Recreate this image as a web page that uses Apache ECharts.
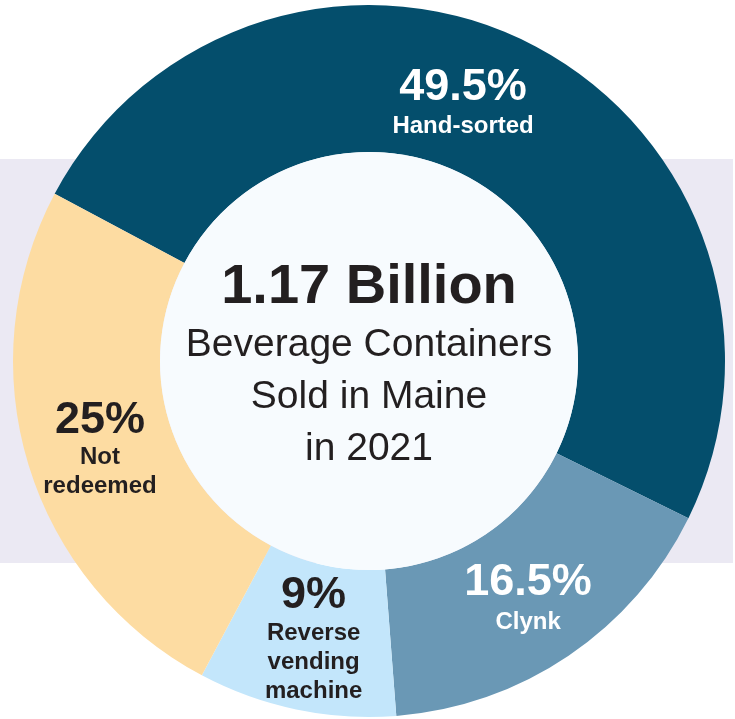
<!DOCTYPE html>
<html>
<head>
<meta charset="utf-8">
<script src="https://cdn.jsdelivr.net/npm/echarts@6/dist/echarts.min.js"></script>
<style>
html,body{margin:0;padding:0;background:#ffffff;}
#chart{width:735px;height:719px;}
</style>
</head>
<body>
<div id="chart"></div>
<script>
// Data
const categories = ['Hand-sorted', 'Clynk', 'Reverse\nvending\nmachine', 'Not\nredeemed'];
const shares = [49.5, 16.5, 9, 25];
const colors = ['#044e6c', '#6a98b5', '#c3e6fb', '#fddca2'];
const labelColors = ['#ffffff', '#ffffff', '#231f20', '#231f20'];
const centerTitle = '1.17 Billion';
const centerLines = ['Beverage Containers', 'Sold in Maine', 'in 2021'];

const labelOffsets = [[-36, -3], [-1, 2], [3, -1], [4, 5]];
const FONT = '"Liberation Sans", Arial, sans-serif';

const chart = echarts.init(document.getElementById('chart'), null, {renderer: 'canvas'});

const pieData = categories.map((name, i) => ({
  name: name,
  value: shares[i],
  itemStyle: {color: colors[i]},
  label: {
    color: labelColors[i],
    rich: {
      p: {fontFamily: FONT, fontWeight: 'bold', fontSize: 45, lineHeight: 45, color: labelColors[i], align: 'center'},
      n: {fontFamily: FONT, fontWeight: 'bold', fontSize: 24, lineHeight: i < 2 ? 33 : 29, color: labelColors[i], align: 'center'}
    }
  }
}));

const option = {
  animation: false,
  graphic: [{
    type: 'rect',
    z: 0,
    shape: {x: 0, y: 159, width: 733, height: 404},
    style: {fill: '#ebe9f3'}
  }],
  series: [
    {
      type: 'pie',
      center: [369, 361],
      radius: [209, 356],
      startAngle: 152,
      clockwise: true,
      silent: true,
      avoidLabelOverlap: false,
      label: {
        show: true,
        position: 'inside',
        formatter: function (p) {
          const lines = p.name.split('\n').map(s => '{n|' + s + '}').join('\n');
          return '{p|' + p.value + '%}\n' + lines;
        }
      },
      labelLine: {show: false},
      labelLayout: function (params) {
        const o = labelOffsets[params.dataIndex];
        return {dx: o[0], dy: o[1]};
      },
      data: pieData
    },
    {
      type: 'pie',
      center: [369, 361],
      radius: [0, 209],
      silent: true,
      z: 3,
      label: {
        show: true,
        position: 'center',
        formatter: function () {
          return '{a|' + centerTitle + '}\n' + centerLines.map(s => '{b|' + s + '}').join('\n');
        },
        rich: {
          a: {fontFamily: FONT, fontWeight: 'bold', fontSize: 56, lineHeight: 63, color: '#231f20', align: 'center'},
          b: {fontFamily: FONT, fontWeight: 'normal', fontSize: 39, lineHeight: 52, color: '#231f20', align: 'center'}
        }
      },
      labelLayout: {dy: 5},
      labelLine: {show: false},
      data: [{value: 1, name: 'center', itemStyle: {color: '#f7fbfe'}}]
    }
  ]
};
chart.setOption(option);
</script>
</body>
</html>
